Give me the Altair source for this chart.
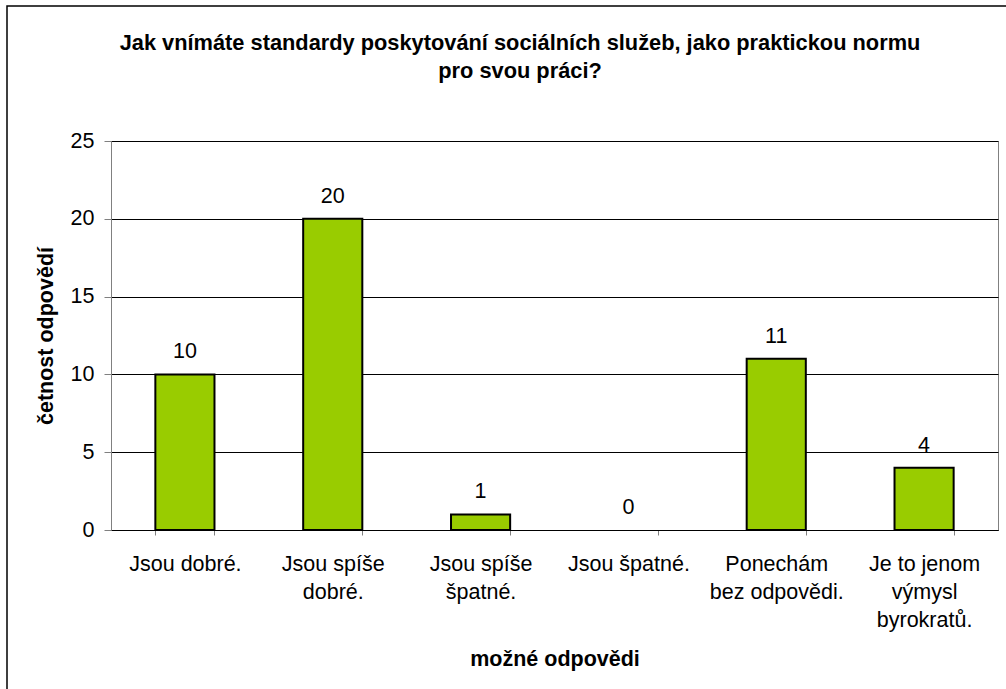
import altair as alt
import pandas as pd

categories = [
    "Jsou dobré.",
    "Jsou spíše|dobré.",
    "Jsou spíše|špatné.",
    "Jsou špatné.",
    "Ponechám|bez odpovědi.",
    "Je to jenom|výmysl|byrokratů.",
]
counts = [10, 20, 1, 0, 11, 4]
y_ticks = [0, 5, 10, 15, 20, 25]
title_line1 = "Jak vnímáte standardy poskytování sociálních služeb, jako praktickou normu"
title_line2 = "pro svou práci?"

df = pd.DataFrame({"odpoved": categories, "cetnost": counts})
FONT = "Liberation Sans"
FS = 21.5

W, H = 887, 389
PL, PT = 111, 141

x_enc = alt.X(
    "odpoved:N",
    sort=categories,
    scale=alt.Scale(paddingInner=0.6, paddingOuter=0.3),
    axis=alt.Axis(
        title="možné odpovědi",
        titleFont=FONT,
        titleFontSize=FS,
        titleFontWeight="bold",
        titleColor="black",
        titlePadding=18,
        labelExpr="split(datum.label, '|')",
        labelAngle=0,
        labelFont=FONT,
        labelFontSize=FS,
        labelColor="black",
        labelLineHeight=28,
        labelPadding=18,
        tickBand="extent",
        tickSize=5,
        tickColor="#808080",
        domainColor="black",
        domainWidth=1,
        grid=False,
    ),
)

y_enc = alt.Y(
    "cetnost:Q",
    scale=alt.Scale(domain=[0, 25], nice=False),
    axis=alt.Axis(
        title="četnost odpovědí",
        titleFont=FONT,
        titleFontSize=FS,
        titleFontWeight="bold",
        titleColor="black",
        titlePadding=13,
        values=y_ticks,
        labelFont=FONT,
        labelFontSize=FS,
        labelColor="black",
        labelPadding=10,
        tickSize=7,
        tickColor="#808080",
        domainColor="#808080",
        gridColor="black",
        gridWidth=1,
        gridOpacity=1,
    ),
)

bars = alt.Chart(df).mark_bar(color="#99CC00", strokeWidth=2).encode(
    x=x_enc,
    y=y_enc,
    stroke=alt.condition("datum.cetnost > 0", alt.value("black"), alt.value(None)),
)

labels = alt.Chart(df).mark_text(
    font=FONT, fontSize=FS, color="black", baseline="bottom", dy=-11
).encode(
    x=alt.X("odpoved:N", sort=categories),
    y=alt.Y("cetnost:Q"),
    text=alt.Text("cetnost:Q"),
)

one = pd.DataFrame({"k": [0]})


def title_text(txt, yc):
    return alt.Chart(one).mark_text(
        font=FONT, fontSize=21.8, fontWeight="bold", color="black",
        baseline="middle", align="center", text=txt,
    ).encode(x=alt.value(520 - PL), y=alt.value(yc - PT))


frame = alt.Chart(one).mark_rect(
    fill=None, stroke="black", strokeWidth=1.5, clip=False
).encode(
    x=alt.value(7 - PL),
    x2=alt.value(1006 - PL + 20),
    y=alt.value(6 - PT),
    y2=alt.value(689 - PT + 20),
)

chart = alt.layer(
    frame, bars, labels, title_text(title_line1, 43), title_text(title_line2, 71)
).properties(
    width=W,
    height=H,
    autosize=alt.AutoSizeParams(type="none"),
    padding={"left": PL, "top": PT, "right": 1006 - PL - W, "bottom": 689 - PT - H},
    background="white",
).configure_view(
    stroke="#808080", strokeWidth=1
)

chart.save("out.html", embed_options={"renderer": "svg", "actions": False})
